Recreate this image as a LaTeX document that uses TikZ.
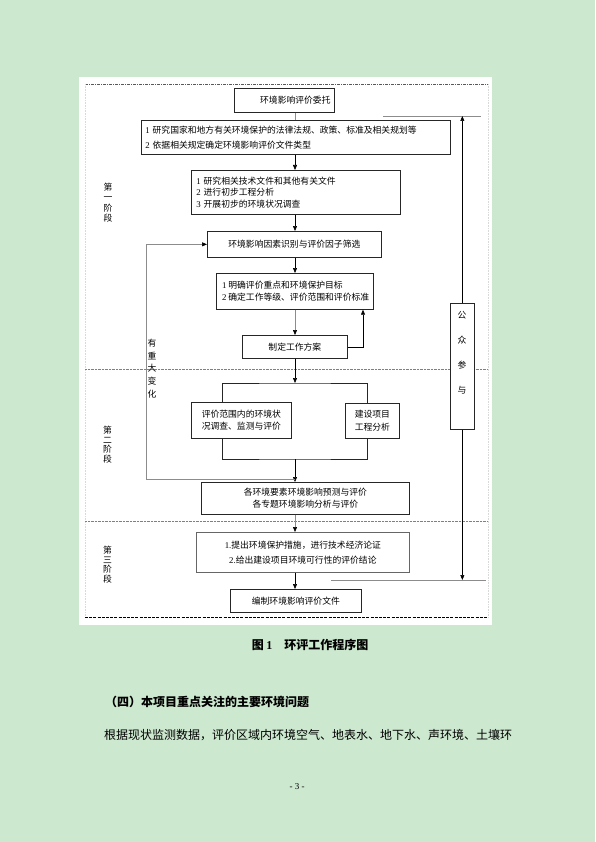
\documentclass[tikz,border=0pt]{standalone}
\usepackage{fontspec}
\setmainfont{Liberation Serif}
\newfontfamily\cjk{Noto Sans CJK SC}
\usetikzlibrary{arrows.meta,calc}
\definecolor{eyegreen}{RGB}{204,232,207}
\newcommand\dg[1]{{\rmfamily #1}}
\begin{document}
\begin{tikzpicture}[x=1pt,y=-1pt,
  box/.style={draw=black!85, line width=0.7pt, fill=white, inner sep=0pt, anchor=north west,
    font=\cjk\fontsize{8.8}{12}\selectfont},
  lbox/.style={box, align=left},
  cbox/.style={box, align=center},
  vlab/.style={inner sep=0pt, align=center},
  ar/.style={draw=black, line width=0.6pt, -{Triangle[length=5pt,width=4pt]}},
  gar/.style={draw=black!45, line width=0.6pt, -{Triangle[length=5pt,width=4pt,color=black]}},
  gl/.style={draw=black!45, line width=0.6pt},
  ln/.style={draw=black!85, line width=0.6pt},
  txt/.style={inner sep=0pt, anchor=west}]
\useasboundingbox (0,0) rectangle (595,842);
\fill[eyegreen] (0,0) rectangle (595,842);
% white sheet and frame
\fill[white] (79,77) rectangle (492,625);
\draw[black!65, line width=0.6pt, dash pattern=on 3pt off 1pt on 1pt off 1pt] (85,84) -- (488,84);
\draw[black!15, line width=0.6pt, densely dotted] (85,84) -- (85,617);
\draw[black!15, line width=0.6pt, densely dotted] (488,84) -- (488,617);
\draw[black, line width=0.6pt, dash pattern=on 3pt off 1.2pt] (85,617) -- (488,617);
\draw[black!50, line width=0.4pt, densely dotted] (85,369) -- (488,369);
\draw[black!50, line width=0.4pt, densely dotted] (85,521) -- (488,521);

% boxes
\node[box, minimum width=100pt, minimum height=24pt] (b1) at (234,88) {\hspace*{22pt}环境影响评价委托};
\node[lbox, minimum width=309pt, minimum height=34pt, text width=301pt, inner xsep=4pt,
  font=\cjk\fontsize{8.8}{15}\selectfont] (b2) at (141,120)
  {\dg{1} 研究国家和地方有关环境保护的法律法规、政策、标准及相关规划等\\\dg{2} 依据相关规定确定环境影响评价文件类型};
\node[lbox, minimum width=209pt, minimum height=44pt, text width=199pt, inner xsep=5pt,
  font=\cjk\fontsize{8.8}{11.7}\selectfont] (b3) at (191,170)
  {\dg{1} 研究相关技术文件和其他有关文件\\\dg{2} 进行初步工程分析\\\dg{3} 开展初步的环境状况调查};
\node[box, minimum width=174pt, minimum height=26pt] (b4) at (207,231) {环境影响因素识别与评价因子筛选};
\node[lbox, minimum width=157pt, minimum height=36pt,
  font=\cjk\fontsize{8.8}{12.3}\selectfont] (b5) at (216,273)
  {\hspace*{1.5pt}\dg{1} 明确评价重点和环境保护目标\\\hspace*{1.5pt}\dg{2} 确定工作等级、评价范围和评价标准};
\node[box, minimum width=105pt, minimum height=23pt] (b6) at (242,335) {制定工作方案};
\node[cbox, minimum width=100pt, minimum height=36pt, font=\cjk\fontsize{8.8}{12.3}\selectfont] (b7) at (191,402)
  {评价范围内的环境状\\况调查、监测与评价};
\node[cbox, minimum width=54pt, minimum height=35pt, font=\cjk\fontsize{8.8}{13.3}\selectfont] (b8) at (345,403)
  {建设项目\\工程分析};
\node[cbox, minimum width=208pt, minimum height=32pt, font=\cjk\fontsize{8.8}{11.7}\selectfont] (b9) at (201,482)
  {各环境要素环境影响预测与评价\\各专题环境影响分析与评价};
\node[cbox, draw=black!60, minimum width=213pt, minimum height=40pt, font=\cjk\fontsize{8.8}{15}\selectfont] (b10) at (196,532)
  {\dg{1.}提出环境保护措施，进行技术经济论证\\\dg{2.}给出建设项目环境可行性的评价结论};
\node[box, minimum width=131pt, minimum height=23pt] (b11) at (230,589) {编制环境影响评价文件};
\node[box, minimum width=24pt, minimum height=126pt] (pp) at (450,303) {};
\node[vlab, font=\cjk\fontsize{8.8}{25}\selectfont] (ppt) at (462,352.5) {公\\众\\参\\与};

% stage labels
\node[vlab, font=\cjk\fontsize{8.8}{10.4}\selectfont] (s1) at (108,202.5) {第\\一\\阶\\段};
\node[vlab, font=\cjk\fontsize{8.8}{9.7}\selectfont] (s2) at (107.5,444.5) {第\\二\\阶\\段};
\node[vlab, font=\cjk\fontsize{8.8}{9.7}\selectfont] (s3) at (107.5,564.5) {第\\三\\阶\\段};
\node[vlab, font=\cjk\fontsize{8.8}{12.75}\selectfont] (chg) at (152,368.5) {有\\重\\大\\变\\化};

% connectors
\coordinate (sp) at (295,0);
\coordinate (fb) at (363,0);
\coordinate (bl) at (222,0);
\coordinate (br) at (367,0);
\coordinate (bt) at (295,383);
\coordinate (bb) at (295,459);
\coordinate (lj) at (295,479.3);
\coordinate (lp) at (146,479.3);
\coordinate (tl1) at (383,116);
\coordinate (tl2) at (481,116);
\coordinate (bl1) at (331,580);
\coordinate (bl2) at (486,580);

\draw[gl] (b1.south -| sp) -- (b2.north -| sp);
\draw[ar] (b2.south -| sp) -- (b3.north -| sp);
\draw[ar] (b3.south -| sp) -- (b4.north -| sp);
\draw[ar] (b4.south -| sp) -- (b5.north -| sp);
\draw[gar] (b5.south -| sp) -- (b6.north -| sp);
\draw[ar] (b6.east) -| (b5.south -| fb);
\draw[ar] (b6.south -| sp) -- (bt);
\draw[ln] (b7.north -| bl) |- (bt) -| (b8.north -| br);
\draw[ln] (b7.south -| bl) |- (bb) -| (b8.south -| br);
\draw[ar] (bb) -- (b9.north -| bb);
\draw[gar] (lj) -- (lp) |- (b4.west);
\draw[gar] (b9.south -| sp) -- (b10.north -| sp);
\draw[ar] (b10.south -| sp) -- (b11.north -| sp);
\draw[gl] (tl1) -- (tl2);
\draw[gl] (bl1) -- (bl2);
\draw[ar] (pp.north) -- (pp.north |- tl1);
\draw[ar] (pp.south) -- (pp.south |- bl1);

% page text
\node[txt, font=\fontsize{12}{14}\selectfont\bfseries] (cap) at (251.7,645)
  {{\cjk 图}\hspace{2.5pt}1\hspace{12pt}{\cjk 环评工作程序图}};
\node[txt, font=\cjk\bfseries\fontsize{12}{14}\selectfont] (hd) at (105,701.7) {（四）本项目重点关注的主要环境问题};
\node[txt, font=\cjk\fontsize{12}{14}\selectfont] (body) at (104,735)
  {根据现状监测数据，评价区域内环境空气、地表水、地下水、声环境、土壤环};
\node[inner sep=0pt, font=\fontsize{9}{11}\selectfont] (pg) at (297,787) {- 3 -};
\end{tikzpicture}
\end{document}
